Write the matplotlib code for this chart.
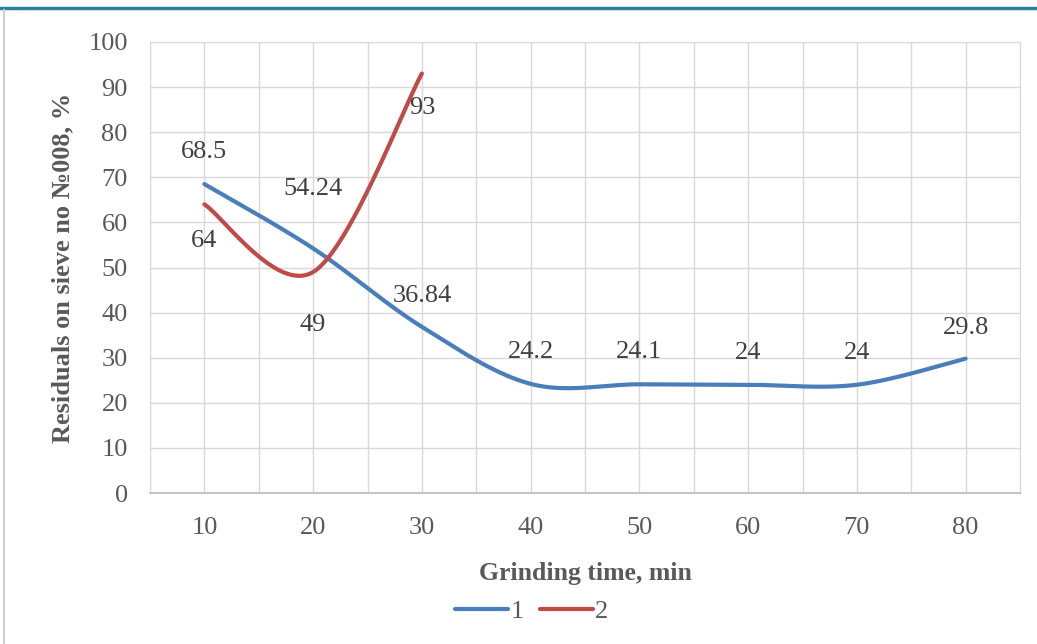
import numpy as np
import matplotlib
matplotlib.use("Agg")
import matplotlib.pyplot as plt
from matplotlib.lines import Line2D

# data
time_1 = [10, 20, 30, 40, 50, 60, 70, 80]
resid_1 = [68.5, 54.24, 36.84, 24.2, 24.1, 24, 24, 29.8]
time_2 = [10, 20, 30]
resid_2 = [64, 49, 93]
labels_1 = ["68.5", "54.24", "36.84", "24.2", "24.1", "24", "24", "29.8"]
labels_2 = ["64", "49", "93"]
x_ticks = [10, 20, 30, 40, 50, 60, 70, 80]
y_ticks = [0, 10, 20, 30, 40, 50, 60, 70, 80, 90, 100]

# label offsets in pixels (dx, dy)
off_1 = [(0, 32), (0, 59), (0, 31), (0, 32), (0, 32), (0, 32), (0, 32), (0, 31)]
off_2 = [(0, -37), (0, -53), (0, -34)]

BLUE = "#4A7EBB"
RED = "#BE4B48"
GREY = "#595959"
GRID = "#D9D9D9"


def smooth(xs, ys, n=60):
    """excel-like smoothed line: catmull-rom as cubic bezier"""
    p = np.column_stack([xs, ys]).astype(float)
    out = []
    for i in range(len(p) - 1):
        p0 = p[i - 1] if i > 0 else p[i]
        p1, p2 = p[i], p[i + 1]
        p3 = p[i + 2] if i + 2 < len(p) else p[i + 1]
        c1 = p1 + (p2 - p0) / 6.0
        c2 = p2 - (p3 - p1) / 6.0
        t = np.linspace(0, 1, n)[:, None]
        seg = ((1 - t) ** 3) * p1 + 3 * ((1 - t) ** 2) * t * c1 + 3 * (1 - t) * t ** 2 * c2 + t ** 3 * p2
        out.append(seg if i == 0 else seg[1:])
    out = np.vstack(out)
    return out[:, 0], out[:, 1]


plt.rcParams["font.family"] = ["Liberation Serif", "DejaVu Serif"]

fig = plt.figure(figsize=(10.37, 6.44), dpi=100)
ax = fig.add_axes([150 / 1037, 1 - 493 / 644, 870 / 1037, 451 / 644])

sx, sy = smooth(time_1, resid_1)
ax.plot(sx, sy, color=BLUE, lw=3.0, solid_capstyle="round", zorder=3)
sx, sy = smooth(time_2, resid_2)
ax.plot(sx, sy, color=RED, lw=3.0, solid_capstyle="round", zorder=3)

for x, y, s, (dx, dy) in zip(time_1, resid_1, labels_1, off_1):
    ax.annotate(s, (x, y), xytext=(dx, dy), textcoords="offset pixels",
                ha="center", va="center", fontsize=19, color="#404040")
for x, y, s, (dx, dy) in zip(time_2, resid_2, labels_2, off_2):
    ax.annotate(s, (x, y), xytext=(dx, dy), textcoords="offset pixels",
                ha="center", va="center", fontsize=19, color="#404040")

ax.set_xlim(5, 85)
ax.set_ylim(0, 100)
ax.set_xticks(x_ticks)
ax.set_yticks(y_ticks)
# gridlines at each category and between them
for gx in np.arange(5, 86, 5):
    ax.axvline(gx, color=GRID, lw=1, zorder=0)
ax.grid(True, which="major", axis="y", color=GRID, lw=1)
ax.set_axisbelow(True)
ax.tick_params(which="both", length=0)
ax.tick_params(axis="x", pad=17, labelsize=19, labelcolor=GREY)
ax.tick_params(axis="y", pad=16, labelsize=19, labelcolor=GREY)
for side in ["top", "right", "left"]:
    ax.spines[side].set_color(GRID)
ax.spines["bottom"].set_color("#BFBFBF")
ax.spines["bottom"].set_linewidth(1.3)

ax.set_xlabel("Grinding time, min", fontsize=18.5, fontweight="bold", color=GREY, labelpad=17)
ax.set_ylabel("Residuals on sieve no №008, %", fontsize=19, fontweight="bold", color=GREY, labelpad=10)

handles = [Line2D([], [], color=BLUE, lw=3.0, solid_capstyle="round"),
           Line2D([], [], color=RED, lw=3.0, solid_capstyle="round")]
fig.legend(handles, ["1", "2"], loc="center", bbox_to_anchor=(532 / 1037, 1 - 611 / 644),
           ncol=2, frameon=False, fontsize=19, handlelength=2.0, handletextpad=0.1,
           columnspacing=0.6, labelcolor=GREY)

# frame bits of the page
fig.add_artist(Line2D([0, 1], [1 - 8 / 644, 1 - 8 / 644], color="#2E7F9A", lw=2.5))
fig.add_artist(Line2D([4 / 1037, 4 / 1037], [0, 1 - 10 / 644], color="#D0D0D0", lw=1.5))

fig.savefig("out.png", dpi=100)
